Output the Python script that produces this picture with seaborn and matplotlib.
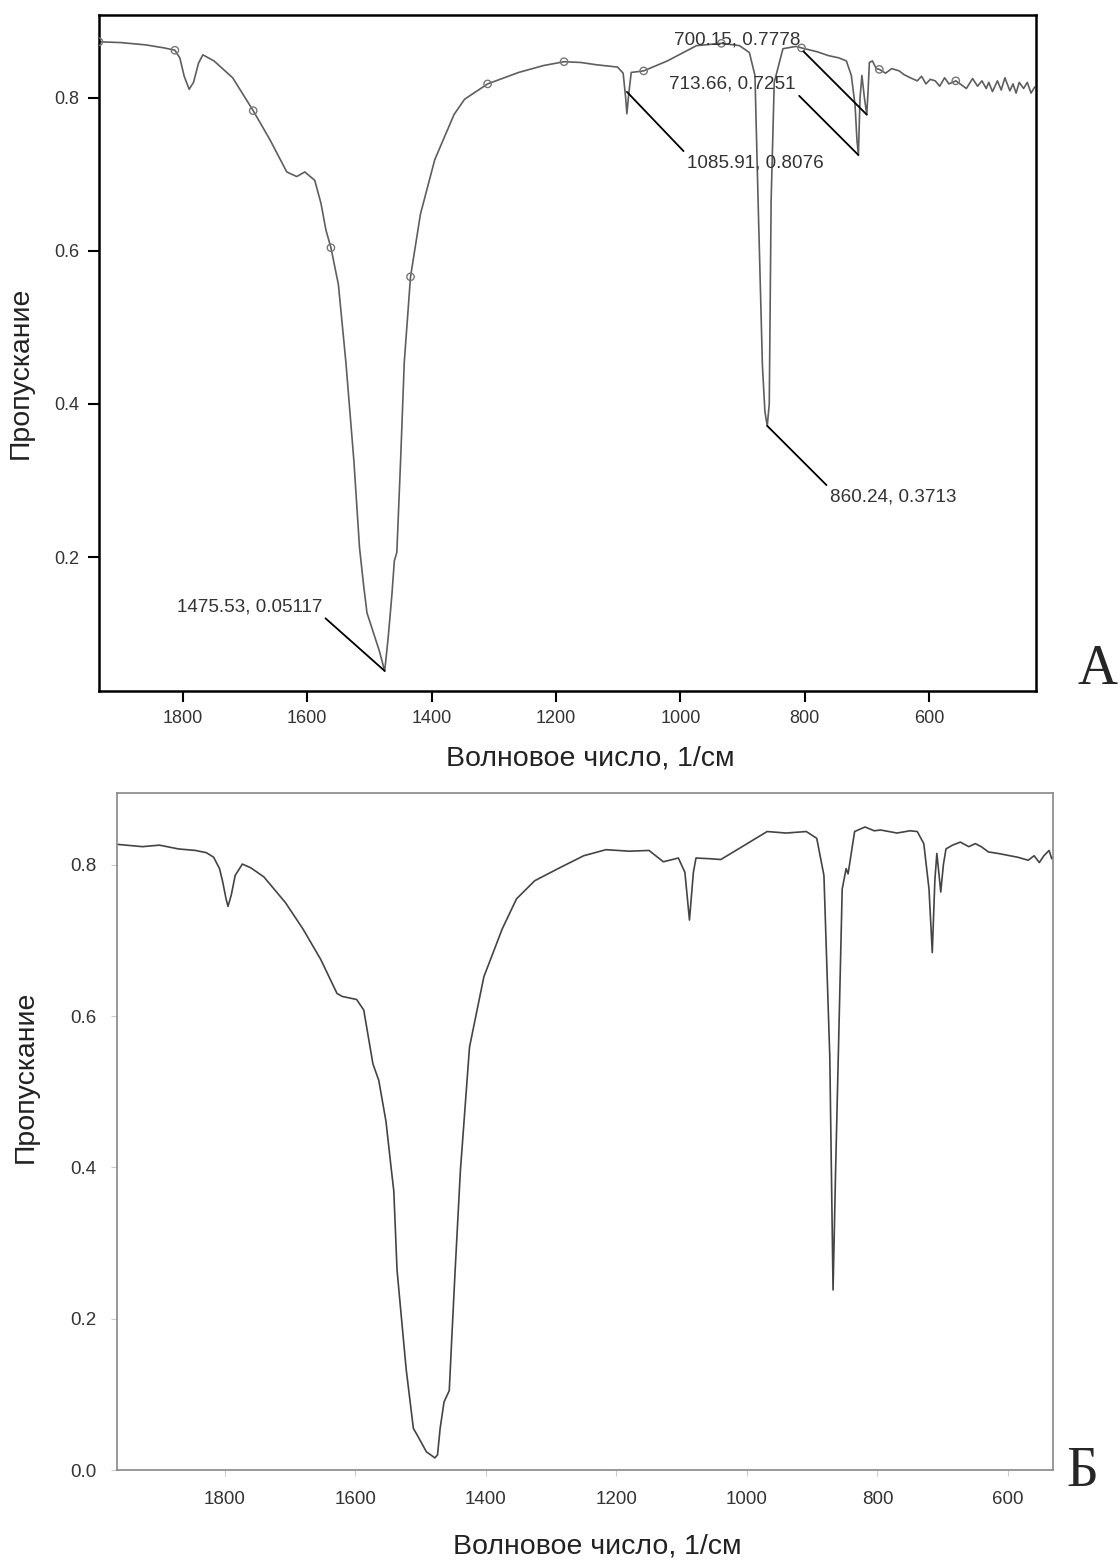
import seaborn as sns
import matplotlib.pyplot as plt
import pandas as pd

# Spectrum A: wavenumber, transmittance
wn_a = [1935, 1900, 1860, 1830, 1813, 1805, 1798, 1790, 1783, 1775,
        1768, 1750, 1720, 1687, 1660, 1633, 1617, 1604, 1588, 1578,
        1570, 1562, 1550, 1538, 1525, 1516, 1509, 1504, 1484, 1475.53,
        1470, 1464, 1460, 1456, 1450, 1444, 1434, 1418, 1395, 1364,
        1347, 1310, 1260, 1220, 1187, 1160, 1135, 1101, 1092, 1088,
        1086, 1083, 1079, 1059, 1021, 974, 934, 905, 889, 880,
        875, 868, 864, 860.24, 857, 854, 849, 835, 814, 805,
        780, 762, 745, 733, 725, 719, 716, 713.66, 711, 708,
        704, 700.15, 698, 696, 691, 685, 680, 670, 660, 648,
        640, 630, 619, 612, 605, 598, 590, 583, 575, 568,
        557, 550, 540, 530, 522, 515, 508, 504, 498, 490,
        484, 478, 470, 465, 460, 455, 448, 442, 436, 430]
tr_a = [0.873, 0.872, 0.869, 0.865, 0.862, 0.852, 0.828, 0.811, 0.820, 0.845,
        0.856, 0.848, 0.826, 0.783, 0.745, 0.703, 0.697, 0.703, 0.692, 0.662,
        0.627, 0.604, 0.556, 0.455, 0.325, 0.212, 0.160, 0.127, 0.077, 0.051,
        0.094, 0.150, 0.195, 0.206, 0.325, 0.455, 0.566, 0.648, 0.719, 0.778,
        0.798, 0.818, 0.833, 0.842, 0.847, 0.846, 0.843, 0.840, 0.832, 0.800,
        0.779, 0.805, 0.833, 0.835, 0.848, 0.868, 0.871, 0.868, 0.859, 0.829,
        0.666, 0.450, 0.390, 0.371, 0.400, 0.666, 0.820, 0.864, 0.867, 0.865,
        0.860, 0.855, 0.852, 0.848, 0.829, 0.790, 0.745, 0.725, 0.800, 0.829,
        0.800, 0.778, 0.810, 0.846, 0.848, 0.838, 0.837, 0.832, 0.838, 0.835,
        0.830, 0.826, 0.822, 0.828, 0.818, 0.824, 0.822, 0.815, 0.826, 0.818,
        0.822, 0.818, 0.812, 0.825, 0.815, 0.822, 0.812, 0.820, 0.808, 0.822,
        0.810, 0.826, 0.809, 0.818, 0.806, 0.820, 0.812, 0.820, 0.806, 0.814]

# Circle markers along spectrum A
mk_wn = [1935, 1813, 1687, 1562, 1434, 1310, 1187, 1059, 934, 805, 680, 557]
mk_tr = [0.873, 0.862, 0.783, 0.604, 0.566, 0.818, 0.847, 0.835, 0.871, 0.865, 0.837, 0.822]

# Peak labels on spectrum A
pk_wn = [1475.53, 1085.91, 860.24, 713.66, 700.15]
pk_tr = [0.05117, 0.8076, 0.3713, 0.7251, 0.7778]

# Spectrum B
wn_b = [1964, 1926, 1900, 1871, 1845, 1828, 1817, 1808, 1803, 1798,
        1795, 1790, 1784, 1773, 1760, 1740, 1707, 1680, 1653, 1628,
        1620, 1598, 1587, 1573, 1564, 1553, 1545, 1541, 1536, 1522,
        1511, 1505, 1491, 1478, 1474, 1470, 1464, 1456, 1452, 1447,
        1439, 1425, 1403, 1375, 1353, 1325, 1287, 1250, 1216, 1180,
        1150, 1128, 1105, 1095, 1088, 1082, 1078, 1056, 1040, 1013,
        969, 940, 909, 893, 882, 873, 868, 864, 860, 854,
        848, 845, 835, 819, 805, 795, 770, 750, 739, 729,
        721, 716, 712, 709, 706, 703, 699, 695, 685, 673,
        660, 650, 641, 630, 615, 597, 585, 569, 560, 552,
        545, 537, 533, 531]
tr_b = [0.827, 0.824, 0.826, 0.821, 0.819, 0.816, 0.810, 0.795, 0.777, 0.755,
        0.745, 0.760, 0.786, 0.801, 0.796, 0.784, 0.750, 0.715, 0.675, 0.630,
        0.626, 0.622, 0.608, 0.537, 0.515, 0.461, 0.399, 0.369, 0.264, 0.133,
        0.055, 0.046, 0.024, 0.016, 0.020, 0.055, 0.090, 0.105, 0.177, 0.264,
        0.395, 0.559, 0.652, 0.715, 0.755, 0.779, 0.796, 0.812, 0.820, 0.818,
        0.819, 0.804, 0.809, 0.790, 0.727, 0.790, 0.809, 0.808, 0.807, 0.821,
        0.844, 0.842, 0.844, 0.835, 0.786, 0.546, 0.238, 0.400, 0.546, 0.768,
        0.795, 0.788, 0.844, 0.850, 0.845, 0.846, 0.842, 0.845, 0.844, 0.828,
        0.768, 0.684, 0.780, 0.815, 0.790, 0.764, 0.800, 0.821, 0.826, 0.830,
        0.824, 0.828, 0.824, 0.817, 0.815, 0.812, 0.810, 0.806, 0.812, 0.803,
        0.812, 0.819, 0.808, 0.810]

x_ticks = [1800, 1600, 1400, 1200, 1000, 800, 600]
xlabel = "Волновое число, 1/см"
ylabel = "Пропускание"

df_a = pd.DataFrame({"wn": wn_a, "tr": tr_a})
df_b = pd.DataFrame({"wn": wn_b, "tr": tr_b})
df_mk = pd.DataFrame({"wn": mk_wn, "tr": mk_tr})

sns.set_style("white")
plt.rcParams["font.family"] = ["Liberation Sans", "DejaVu Sans"]

fig = plt.figure(figsize=(11.2, 15.64), dpi=100)
ax1 = fig.add_axes([0.0884, 0.5582, 0.8366, 0.4322])
ax2 = fig.add_axes([0.1045, 0.0601, 0.8357, 0.4329])

# --- panel A ---
sns.lineplot(data=df_a, x="wn", y="tr", ax=ax1, color="#5e5e5e", lw=1.2, sort=False)
sns.scatterplot(data=df_mk, x="wn", y="tr", ax=ax1, marker="o", s=28,
                facecolors="none", edgecolor="#777777", linewidth=1.0, zorder=3)
ax1.set_xlim(1935, 428)
ax1.set_ylim(0.025, 0.908)
ax1.set_xticks(x_ticks)
ax1.set_yticks([0.2, 0.4, 0.6, 0.8])
ax1.set_yticklabels(["0.2", "0.4", "0.6", "0.8"])
for s in ax1.spines.values():
    s.set_color("black")
    s.set_linewidth(1.8)
ax1.tick_params(axis="both", direction="out", length=8, width=1.5, color="black",
                labelsize=13, labelcolor="#333333", pad=6, bottom=True, left=True)
ax1.set_xlabel(xlabel, fontsize=20.5, color="#222222")
ax1.xaxis.set_label_coords(0.524, -0.080)
ax1.set_ylabel(ylabel, fontsize=20.5, color="#222222")
ax1.yaxis.set_label_coords(-0.070, 0.47)

# offsets (points) and alignment of each peak label
offs = [(-45, 40), (43, -45), (45, -45), (-45, 45), (-48, 48)]
aligns = [("right", "bottom", (1, 0)), ("left", "top", (0, 1)), ("left", "top", (0, 1)),
          ("right", "bottom", (1, 0)), ("right", "bottom", (1, 0))]
for w, t, o, (ha, va, rp) in zip(pk_wn, pk_tr, offs, aligns):
    ax1.annotate(f"{w:.2f}, {t:g}", xy=(w, t), xytext=o, textcoords="offset points",
                 ha=ha, va=va, fontsize=13.6, color="#333333",
                 arrowprops=dict(arrowstyle="-", color="black", lw=1.3,
                                 shrinkA=0, shrinkB=0, relpos=rp))

# --- panel B ---
sns.lineplot(data=df_b, x="wn", y="tr", ax=ax2, color="#444444", lw=1.2, sort=False)
ax2.set_xlim(1965, 531)
ax2.set_ylim(0.0, 0.895)
ax2.set_xticks(x_ticks)
ax2.set_yticks([0.0, 0.2, 0.4, 0.6, 0.8])
ax2.set_yticklabels(["0.0", "0.2", "0.4", "0.6", "0.8"])
for s in ax2.spines.values():
    s.set_color("#888888")
    s.set_linewidth(1.2)
ax2.tick_params(axis="both", direction="out", length=4, width=0.8, color="#cccccc",
                labelsize=13.5, labelcolor="#333333", pad=11, bottom=True, left=True)
ax2.set_xlabel(xlabel, fontsize=20.5, color="#222222")
ax2.xaxis.set_label_coords(0.513, -0.094)
ax2.set_ylabel(ylabel, fontsize=20.5, color="#222222")
ax2.yaxis.set_label_coords(-0.084, 0.58)

fig.text(0.980, 0.5716, "А", fontsize=40, family="Liberation Serif", ha="center", va="center")
fig.text(0.966, 0.0588, "Б", fontsize=40, family="Liberation Serif", ha="center", va="center")

fig.savefig("out.png", dpi=100)
